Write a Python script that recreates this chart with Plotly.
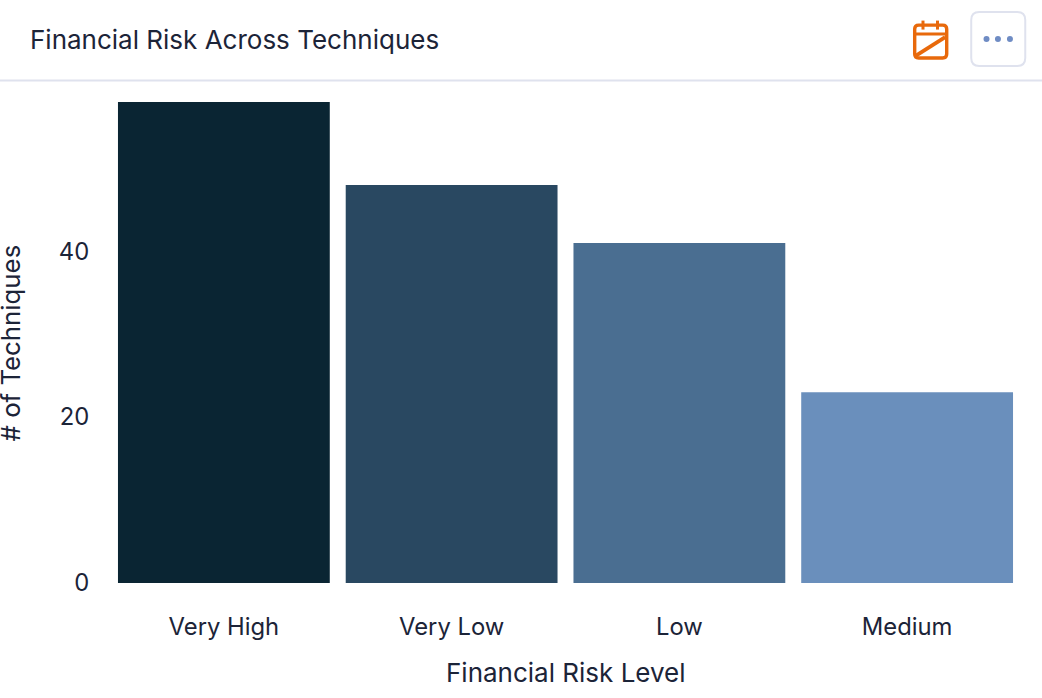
import plotly.graph_objects as go

# Chart data
risk_levels = ["Very High", "Very Low", "Low", "Medium"]
technique_counts = [58, 48, 41, 23]
bar_colors = ["#0a2533", "#294861", "#4a6e91", "#6a8fbc"]
y_ticks = [0, 20, 40]

TITLE = "Financial Risk Across Techniques"
X_TITLE = "Financial Risk Level"
Y_TITLE = "# of Techniques"

WIDTH, HEIGHT = 1042, 698
LEFT, RIGHT, TOP, BOTTOM = 110.25, 21.25, 102, 114.5
INK = "#1c2438"
BORDER = "#dfe2ee"
ORANGE = "#e8690b"
DOT = "#6f8cc4"


def px(x):
    return (x - LEFT) / (WIDTH - LEFT - RIGHT)


def py(y):
    return 1 - (y - TOP) / (HEIGHT - TOP - BOTTOM)


def path_shape(path, **style):
    return dict(type="path", xref="paper", yref="paper", path=path, layer="above", **style)


def rounded_rect(x0, y0, x1, y1, r):
    return (
        f"M{px(x0 + r)},{py(y0)} L{px(x1 - r)},{py(y0)} "
        f"Q{px(x1)},{py(y0)} {px(x1)},{py(y0 + r)} L{px(x1)},{py(y1 - r)} "
        f"Q{px(x1)},{py(y1)} {px(x1 - r)},{py(y1)} L{px(x0 + r)},{py(y1)} "
        f"Q{px(x0)},{py(y1)} {px(x0)},{py(y1 - r)} L{px(x0)},{py(y0 + r)} "
        f"Q{px(x0)},{py(y0)} {px(x0 + r)},{py(y0)} Z"
    )


def segment(x0, y0, x1, y1, color, width):
    return dict(
        type="line", xref="paper", yref="paper", layer="above",
        x0=px(x0), y0=py(y0), x1=px(x1), y1=py(y1),
        line=dict(color=color, width=width),
    )


def dot(cx, cy, r, color):
    return dict(
        type="circle", xref="paper", yref="paper", layer="above",
        x0=px(cx - r), y0=py(cy - r), x1=px(cx + r), y1=py(cy + r),
        fillcolor=color, line=dict(width=0),
    )


header_shapes = [
    # Divider under the card header
    segment(0, 80.5, WIDTH, 80.5, BORDER, 2),
    # Calendar icon
    path_shape(rounded_rect(914.5, 25, 946.5, 58, 4), line=dict(color=ORANGE, width=3.4)),
    segment(914.5, 34, 946.5, 34, ORANGE, 3),
    segment(922.8, 20.5, 922.8, 29.5, ORANGE, 3),
    segment(937.3, 20.5, 937.3, 29.5, ORANGE, 3),
    segment(915, 56, 945, 37, ORANGE, 3.8),
    # Overflow menu button
    path_shape(rounded_rect(971, 12, 1025, 66, 8), line=dict(color=BORDER, width=2)),
    dot(986.3, 39, 3, DOT),
    dot(997.7, 39, 3, DOT),
    dot(1009.7, 39, 3, DOT),
]

fig = go.Figure(
    go.Bar(
        x=risk_levels,
        y=technique_counts,
        marker=dict(color=bar_colors, line=dict(width=0)),
        showlegend=False,
    )
)

fig.update_layout(
    width=WIDTH,
    height=HEIGHT,
    margin=dict(l=LEFT, r=RIGHT, t=TOP, b=BOTTOM, autoexpand=False),
    paper_bgcolor="white",
    plot_bgcolor="white",
    bargap=0.07,
    font=dict(family="Inter, sans-serif", size=23.8, color=INK),
    shapes=header_shapes,
    annotations=[
        dict(
            text=TITLE, xref="paper", yref="paper", x=px(28.5), y=py(39.5),
            xanchor="left", yanchor="middle", showarrow=False,
            font=dict(size=26, color=INK),
        ),
        dict(
            text=X_TITLE, xref="paper", yref="paper", x=px(565.5), y=py(673),
            xanchor="center", yanchor="middle", showarrow=False,
            font=dict(size=26, color=INK),
        ),
        dict(
            text=Y_TITLE, xref="paper", yref="paper", x=px(11), y=py(343),
            xanchor="center", yanchor="middle", showarrow=False, textangle=-90,
            font=dict(size=25.8, color=INK),
        ),
    ],
    xaxis=dict(
        type="category", showgrid=False, zeroline=False, showline=False,
        ticks="outside", ticklen=22, tickcolor="rgba(0,0,0,0)",
    ),
    yaxis=dict(
        range=[0, 58], tickvals=y_ticks, showgrid=False, zeroline=False, showline=False,
        ticks="outside", ticklen=15, tickcolor="rgba(0,0,0,0)",
    ),
)

fig.write_html("out.html", config=dict(displayModeBar=False))
